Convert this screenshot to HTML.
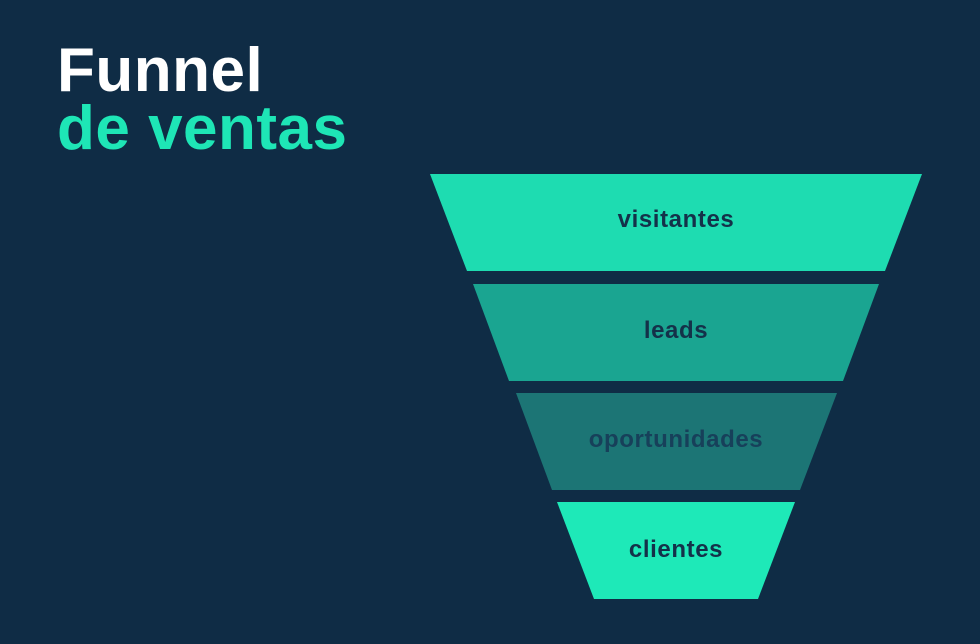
<!DOCTYPE html>
<html><head><meta charset="utf-8"><style>
html,body{margin:0;padding:0;}
body{width:980px;height:644px;background:#0f2c45;overflow:hidden;position:relative;font-family:"Liberation Sans",sans-serif;}
.t{position:absolute;left:57px;font-weight:bold;font-size:62px;line-height:1;letter-spacing:0.5px;}
</style></head><body>
<div class="t" style="top:40px;color:#ffffff;">Funnel</div>
<div class="t" style="top:98px;color:#1ee6b6;">de ventas</div>
<svg width="980" height="644" style="position:absolute;left:0;top:0">
<polygon points="430,174 922,174 885,271 467,271" fill="#1edcb1"/>
<polygon points="473,284 879,284 843,381 509,381" fill="#1aa591"/>
<polygon points="516,393 837,393 800,490 552,490" fill="#1c7575"/>
<polygon points="557,502 795,502 758,599 594,599" fill="#1ee9b8"/>
<g font-family="Liberation Sans, sans-serif" font-weight="bold" font-size="24" fill="#143149" text-anchor="middle" letter-spacing="0.6">
<text x="676" y="227">visitantes</text>
<text x="676" y="338">leads</text>
<text x="676" y="447" fill="#17405a">oportunidades</text>
<text x="676" y="557">clientes</text>
</g>
</svg>
</body></html>
